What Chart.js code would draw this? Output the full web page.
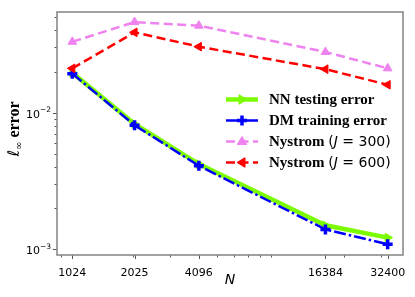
<!DOCTYPE html>
<html>
<head>
<meta charset="utf-8">
<script src="https://cdn.jsdelivr.net/npm/chart.js@4/dist/chart.umd.min.js"></script>
<style>
  html, body { margin: 0; padding: 0; background: #fff; }
  #wrap { position: relative; width: 415px; height: 297px; }
</style>
</head>
<body>
<div id="wrap"><canvas id="errChart" width="415" height="297"></canvas></div>
<script>
// values
const nValues = [1024, 2025, 4096, 16384, 32400];
const nnTesting = [0.0196, 0.00826, 0.00421, 0.0015, 0.00122];
const dmTraining = [0.0193, 0.0081, 0.00409, 0.0014, 0.00109];
const nystrom300 = [0.033, 0.046, 0.0433, 0.0278, 0.0211];
const nystrom600 = [0.0211, 0.0387, 0.0304, 0.0208, 0.016];

const xMajor = [1024, 2025, 4096, 16384, 32400];
const xMinor = [900, 2000, 3000, 5000, 6000, 7000, 8000, 9000, 20000, 30000];
const yMajor = [0.001, 0.01];
const yMajorExp = ['\u22123', '\u22122'];
const yMinor = [0.002, 0.003, 0.004, 0.005, 0.006, 0.007, 0.008, 0.009, 0.02, 0.03, 0.04, 0.05];

const pts = arr => nValues.map((n, i) => ({ x: n, y: arr[i] }));

const series = [
  { label: 'NN testing error', data: nnTesting, color: '#7CFC00', width: 4.5, dash: [], style: 'triangle', rot: 90, radius: 5, pw: 1, order: 4 },
  { label: 'DM training error', data: dmTraining, color: '#0000FF', width: 2.5, dash: [12, 3, 2.5, 3], style: 'cross', rot: 0, radius: 5, pw: 3.5, order: 3 },
  { label: 'Nystrom', j: '300', data: nystrom300, color: '#EE82EE', width: 2.5, dash: [9, 4.5], style: 'triangle', rot: 0, radius: 5, pw: 1, order: 2 },
  { label: 'Nystrom', j: '600', data: nystrom600, color: '#FF0000', width: 2.5, dash: [9, 4.5], style: 'triangle', rot: -90, radius: 5, pw: 1, order: 1 }
];

function drawMarker(ctx, s, x, y) {
  ctx.save();
  ctx.translate(x, y);
  ctx.rotate(s.rot * Math.PI / 180);
  ctx.setLineDash([]);
  ctx.fillStyle = s.color;
  ctx.strokeStyle = s.color;
  ctx.lineWidth = s.pw;
  const r = s.radius;
  ctx.beginPath();
  if (s.style === 'cross') {
    ctx.moveTo(-r, 0); ctx.lineTo(r, 0);
    ctx.moveTo(0, -r); ctx.lineTo(0, r);
    ctx.stroke();
  } else {
    ctx.moveTo(0, -r);
    ctx.lineTo(r * 0.95, r * 0.6);
    ctx.lineTo(-r * 0.95, r * 0.6);
    ctx.closePath();
    ctx.fill();
    ctx.stroke();
  }
  ctx.restore();
}

const framePlugin = {
  id: 'frame',
  afterDraw(chart) {
    const ctx = chart.ctx;
    const a = chart.chartArea;
    const xs = chart.scales.x, ys = chart.scales.y;
    ctx.save();
    // ticks
    ctx.strokeStyle = '#555';
    ctx.lineWidth = 1;
    const tick = (x1, y1, x2, y2) => { ctx.beginPath(); ctx.moveTo(x1, y1); ctx.lineTo(x2, y2); ctx.stroke(); };
    xMajor.forEach(v => { const x = Math.round(xs.getPixelForValue(v)) + 0.5; tick(x, a.bottom, x, a.bottom + 4); });
    xMinor.forEach(v => { const x = Math.round(xs.getPixelForValue(v)) + 0.5; tick(x, a.bottom, x, a.bottom + 2.5); });
    yMajor.forEach(v => { const y = Math.round(ys.getPixelForValue(v)) + 0.5; tick(a.left, y, a.left - 4, y); });
    yMinor.forEach(v => { const y = Math.round(ys.getPixelForValue(v)) + 0.5; tick(a.left, y, a.left - 2.5, y); });
    // spines
    ctx.strokeStyle = '#8a8a8a';
    ctx.lineWidth = 1.6;
    ctx.strokeRect(a.left, a.top, a.right - a.left, a.bottom - a.top);

    // y tick labels as 10^{-k}
    ctx.fillStyle = '#000';
    ctx.textBaseline = 'alphabetic';
    ctx.textAlign = 'left';
    yMajor.forEach((v, i) => {
      const y = ys.getPixelForValue(v);
      ctx.font = '7.5px "DejaVu Sans"';
      const we = ctx.measureText(yMajorExp[i]).width;
      ctx.font = '11px "DejaVu Sans"';
      const wb = ctx.measureText('10').width;
      const right = a.left - 6;
      ctx.fillText('10', right - we - wb, y + 5);
      ctx.font = '7.5px "DejaVu Sans"';
      ctx.fillText(yMajorExp[i], right - we, y - 0.5);
    });

    // axis titles
    ctx.font = 'italic 14px "DejaVu Sans"';
    ctx.textAlign = 'center';
    ctx.fillText('N', (a.left + a.right) / 2, 284);

    ctx.save();
    ctx.translate(19, 129);
    ctx.rotate(-Math.PI / 2);
    ctx.textAlign = 'left';
    ctx.font = 'italic 16px "DejaVu Sans"';
    const w1 = ctx.measureText('\u2113').width;
    ctx.font = 'italic 10px "DejaVu Sans"';
    const w2 = ctx.measureText('\u221E').width;
    ctx.font = 'bold 16px "Liberation Serif"';
    const w3 = ctx.measureText(' error').width;
    let x0 = -(w1 + w2 + w3) / 2;
    ctx.font = 'italic 16px "DejaVu Sans"';
    ctx.fillText('\u2113', x0, 0);
    ctx.font = 'italic 10px "DejaVu Sans"';
    ctx.fillText('\u221E', x0 + w1, 3);
    ctx.font = 'bold 16px "Liberation Serif"';
    ctx.fillText(' error', x0 + w1 + w2, 0);
    ctx.restore();

    // legend
    const rowY = [99.5, 120.5, 141.5, 162.5];
    series.forEach((s, i) => {
      const y = rowY[i];
      ctx.save();
      ctx.strokeStyle = s.color;
      ctx.lineWidth = s.width;
      ctx.setLineDash(s.dash);
      ctx.beginPath();
      ctx.moveTo(226, y); ctx.lineTo(258, y);
      ctx.stroke();
      ctx.restore();
      drawMarker(ctx, s, 242, y);
      ctx.fillStyle = '#000';
      ctx.textAlign = 'left';
      ctx.textBaseline = 'middle';
      let tx = 269;
      ctx.font = 'bold 15px "Liberation Serif"';
      const main = s.j ? s.label + ' ' : s.label;
      ctx.fillText(main, tx, y + 1);
      if (s.j) {
        tx += ctx.measureText(main).width;
        ctx.font = '14px "DejaVu Sans"';
        ctx.fillText('(', tx, y + 1);
        tx += ctx.measureText('(').width;
        ctx.font = 'italic 14px "DejaVu Sans"';
        ctx.fillText('J', tx, y + 1);
        tx += ctx.measureText('J').width;
        ctx.font = '14px "DejaVu Sans"';
        ctx.fillText(' = ' + s.j + ')', tx, y + 1);
      }
    });
    ctx.restore();
  }
};

const ctx = document.getElementById('errChart').getContext('2d');
new Chart(ctx, {
  type: 'line',
  data: {
    datasets: series.map(s => ({
      label: s.j ? s.label + ' (J = ' + s.j + ')' : s.label,
      data: pts(s.data),
      borderColor: s.color,
      backgroundColor: s.color,
      borderWidth: s.width,
      borderDash: s.dash,
      pointStyle: s.style,
      rotation: s.rot,
      pointRadius: s.radius,
      pointBorderWidth: s.pw,
      pointBackgroundColor: s.color,
      pointBorderColor: s.color,
      tension: 0,
      fill: false,
      order: s.order
    }))
  },
  options: {
    responsive: false,
    animation: false,
    layout: { padding: { top: 11, right: 12, left: 0, bottom: 0 } },
    plugins: {
      legend: { display: false },
      tooltip: { enabled: false }
    },
    scales: {
      x: {
        type: 'logarithmic',
        min: 866,
        max: 38320,
        afterFit: scale => { scale.height = 42; },
        afterBuildTicks: scale => { scale.ticks = xMajor.map(v => ({ value: v })); },
        grid: { display: false },
        border: { display: false },
        ticks: {
          autoSkip: false,
          maxRotation: 0,
          padding: 4,
          color: '#000',
          font: { family: 'DejaVu Sans', size: 11 },
          callback: (v) => String(v)
        }
      },
      y: {
        type: 'logarithmic',
        min: 0.00091,
        max: 0.0545,
        afterFit: scale => { scale.width = 57; },
        afterBuildTicks: scale => { scale.ticks = yMajor.map(v => ({ value: v })); },
        grid: { display: false },
        border: { display: false },
        ticks: {
          autoSkip: false,
          padding: 6,
          font: { family: 'DejaVu Sans', size: 10 },
          callback: () => ''
        }
      }
    }
  },
  plugins: [framePlugin]
});
</script>
</body>
</html>
